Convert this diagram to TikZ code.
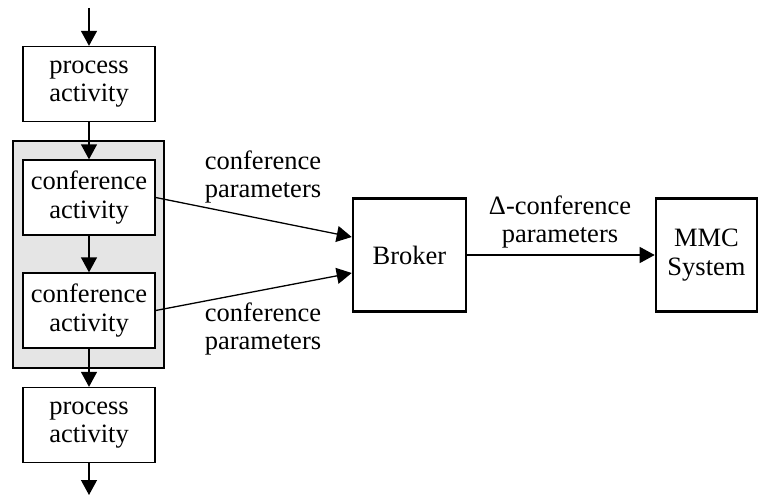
\documentclass[tikz,border=0pt]{standalone}
\usepackage{fontspec}
\setmainfont{Liberation Serif}
\usetikzlibrary{arrows.meta}
\begin{document}
\begin{tikzpicture}[x=1pt,y=-1pt,
  every node/.style={font=\fontsize{26.5}{28.5}\selectfont, align=center, inner sep=0pt},
  actbox/.style={draw, line width=1.3pt, fill=white, minimum width=132pt, minimum height=75pt},
  bigbox/.style={draw, line width=2.6pt, fill=white},
  conn/.style={line width=1.3pt, -{Triangle[length=15pt,width=16pt]}},
  lbl/.style={fill=none}]
\useasboundingbox (0,0) rectangle (759,495);
\node[draw, line width=1.3pt, fill=black!10, minimum width=151pt, minimum height=227pt] (grp) at (88.5,254.5) {};
\node[actbox] (p1) at (89,84) {process\\activity};
\node[actbox] (c1) at (89,197.5) {conference\\activity};
\node[actbox] (c2) at (89,310.5) {conference\\activity};
\node[actbox] (p2) at (89,425) {process\\activity};
\node[bigbox, minimum width=113pt, minimum height=113pt] (br) at (409.5,255) {Broker};
\node[bigbox, minimum width=101pt, minimum height=113pt] (mmc) at (706.5,255) {MMC\\System};
\coordinate (top) at (89,8);
\coordinate (bot) at (89,495);
\draw[conn] (top) -- (p1);
\draw[conn] (p1) -- (c1);
\draw[conn] (c1) -- (c2);
\draw[conn] (c2.south) -- (p2);
\draw[conn] (p2) -- (bot);
\draw[conn] (c1.east) -- ([yshift=18pt]br.west);
\draw[conn] (c2.east) -- ([yshift=-18pt]br.west);
\draw[conn] (br) -- (mmc);
\node[lbl] (l1) at (263,177) {conference\\parameters};
\node[lbl] (l2) at (263,329) {conference\\parameters};
\node[lbl] (l3) at (560,222) {Δ-conference\\parameters};
\end{tikzpicture}
\end{document}
